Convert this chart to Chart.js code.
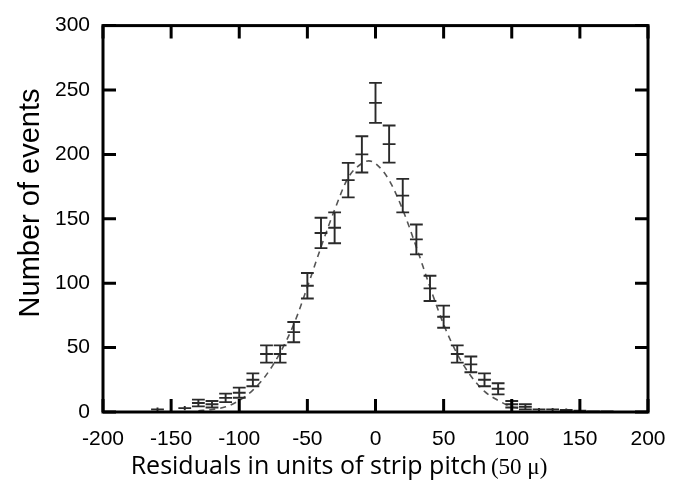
<!DOCTYPE html>
<html>
<head>
<meta charset="utf-8">
<script src="https://cdn.jsdelivr.net/npm/chart.js@4.4.1/dist/chart.umd.min.js"></script>
<style>
  html, body { margin: 0; padding: 0; background: #fff; }
  #wrap { width: 684px; height: 493px; }
</style>
</head>
<body>
<div id="wrap"><canvas id="chart" width="684" height="493"></canvas></div>
<script>
// measured histogram (residuals, counts, error)
const binX = [-160, -140, -130, -120, -110, -100, -90, -80, -70, -60, -50, -40, -30, -20, -10, 0,
  10, 20, 30, 40, 50, 60, 70, 80, 90, 100, 110, 120, 130, 140, 150, 160, 170];
const counts = [2, 3, 7, 6, 11, 15, 25, 45, 45, 62, 98, 139, 143, 180, 200, 240,
  208, 168, 134, 96, 74, 45, 37, 25, 18, 6, 4, 2, 2, 1.5, 1, 0.5, 0.5];
const errors = [1.5, 1.7, 2.6, 2.5, 3.3, 3.9, 5, 6.7, 6.7, 7.9, 9.9, 11.8, 12, 13.4, 14.1, 15.5,
  14.4, 13, 11.6, 9.8, 8.6, 6.7, 6.1, 5, 4.3, 2.5, 2, 1.2, 1.2, 1.2, 1, 0.7, 0.7];
const halfBin = 4.7;

// gaussian fit curve
const fitX = [-130, -120, -110, -100, -90, -80, -70, -60, -50, -40, -30, -20, -10, -5, 0,
  10, 20, 30, 40, 50, 60, 70, 80, 90, 100, 105];
const fitY = [1, 2, 4, 9, 17, 29, 46, 68, 97, 128, 157, 182, 193, 195, 193,
  180, 157, 128, 97, 68, 45, 28, 16, 9, 4, 3];

const xTicks = [-200, -150, -100, -50, 0, 50, 100, 150, 200];
const yTicks = [0, 50, 100, 150, 200, 250, 300];

const AREA = { left: 103, right: 648, top: 16, bottom: 412 };

const errorBars = {
  id: 'errorBars',
  afterDatasetsDraw(chart) {
    const { ctx, scales } = chart;
    const x = scales.x;
    const y = scales.y;
    ctx.save();
    ctx.strokeStyle = '#2a2a2a';
    ctx.lineWidth = 1.9;
    binX.forEach((bx, i) => {
      const px = x.getPixelForValue(bx);
      const pl = x.getPixelForValue(bx - halfBin);
      const pr = x.getPixelForValue(bx + halfBin);
      const py = y.getPixelForValue(counts[i]);
      const top = y.getPixelForValue(counts[i] + errors[i]);
      const bot = y.getPixelForValue(Math.max(0, counts[i] - errors[i]));
      ctx.beginPath();
      ctx.moveTo(px, top);
      ctx.lineTo(px, bot);
      ctx.moveTo(pl, py);
      ctx.lineTo(pr, py);
      if (errors[i] >= 2) {
        ctx.moveTo(pl, top);
        ctx.lineTo(pr, top);
        ctx.moveTo(pl, bot);
        ctx.lineTo(pr, bot);
      }
      ctx.stroke();
    });
    ctx.restore();
  },
};

const frame = {
  id: 'frame',
  afterDraw(chart) {
    const { ctx, chartArea: a, scales } = chart;
    ctx.save();
    ctx.strokeStyle = '#000';
    ctx.lineWidth = 3;
    ctx.strokeRect(a.left, a.top, a.right - a.left, a.bottom - a.top);
    const len = 13;
    ctx.beginPath();
    xTicks.forEach((v) => {
      const px = scales.x.getPixelForValue(v);
      ctx.moveTo(px, a.bottom);
      ctx.lineTo(px, a.bottom - len);
      ctx.moveTo(px, a.top);
      ctx.lineTo(px, a.top + len);
    });
    yTicks.forEach((v) => {
      const py = scales.y.getPixelForValue(v);
      ctx.moveTo(a.left, py);
      ctx.lineTo(a.left + len, py);
      ctx.moveTo(a.right, py);
      ctx.lineTo(a.right - len, py);
    });
    ctx.stroke();

    // axis titles
    ctx.fillStyle = '#000';
    ctx.save();
    ctx.translate(31, 203);
    ctx.rotate(-Math.PI / 2);
    ctx.font = '29px "Liberation Sans", Arial, sans-serif';
    ctx.textAlign = 'center';
    ctx.textBaseline = 'middle';
    ctx.fillText('Number of events', 0, 0);
    ctx.restore();

    ctx.textBaseline = 'middle';
    ctx.textAlign = 'left';
    const part1 = 'Residuals in units of strip pitch';
    const part2 = '(50 μ)';
    ctx.font = '25px "Open Sans", sans-serif';
    const w1 = ctx.measureText(part1).width;
    ctx.font = '23px "Liberation Serif", serif';
    const w2 = ctx.measureText(part2).width;
    const start = 339 - (w1 + 4 + w2) / 2;
    ctx.font = '25px "Open Sans", sans-serif';
    ctx.fillText(part1, start, 467);
    ctx.font = '23px "Liberation Serif", serif';
    ctx.fillText(part2, start + w1 + 4, 468);
    ctx.restore();
  },
};

new Chart(document.getElementById('chart'), {
  type: 'scatter',
  data: {
    datasets: [
      {
        label: 'data',
        data: binX.map((v, i) => ({ x: v, y: counts[i] })),
        pointRadius: 0,
        showLine: false,
      },
      {
        label: 'fit',
        type: 'line',
        data: fitX.map((v, i) => ({ x: v, y: fitY[i] })),
        borderColor: '#555',
        borderWidth: 1.6,
        borderDash: [6, 5],
        pointRadius: 0,
        cubicInterpolationMode: 'monotone',
        fill: false,
      },
    ],
  },
  options: {
    responsive: false,
    animation: false,
    layout: { padding: { left: 0, right: 684 - AREA.right, top: AREA.top, bottom: 0 } },
    plugins: { legend: { display: false }, tooltip: { enabled: false } },
    scales: {
      x: {
        type: 'linear',
        min: -200,
        max: 200,
        afterBuildTicks(scale) { scale.ticks = xTicks.map((v) => ({ value: v })); },
        afterFit(scale) { scale.height = 493 - AREA.bottom; },
        grid: { display: false, drawTicks: false },
        border: { display: false },
        ticks: {
          padding: 15,
          color: '#000',
          font: { family: '"Liberation Sans", Arial, sans-serif', size: 21 },
          maxRotation: 0,
        },
      },
      y: {
        type: 'linear',
        min: 0,
        max: 300,
        afterBuildTicks(scale) { scale.ticks = yTicks.map((v) => ({ value: v })); },
        afterFit(scale) { scale.width = AREA.left; },
        grid: { display: false, drawTicks: false },
        border: { display: false },
        ticks: {
          padding: 13,
          color: '#000',
          font: { family: '"Liberation Sans", Arial, sans-serif', size: 21 },
        },
      },
    },
  },
  plugins: [errorBars, frame],
});
</script>
</body>
</html>
